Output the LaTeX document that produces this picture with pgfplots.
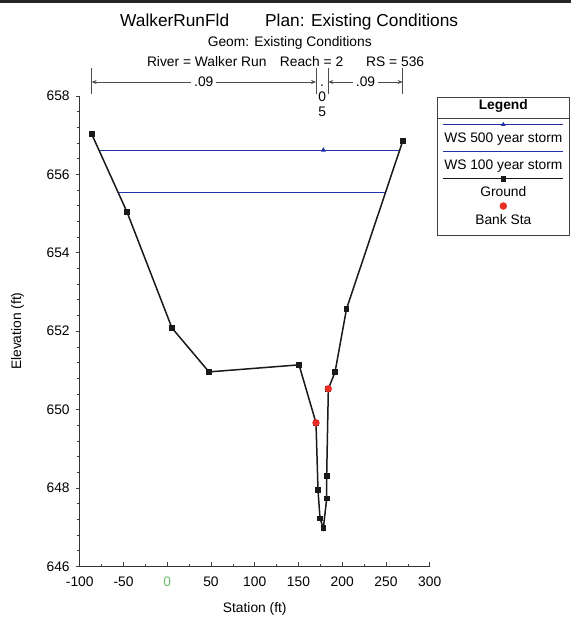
\documentclass[border=0pt]{standalone}
\usepackage{fontspec}
\setmainfont{Liberation Sans}
\usepackage{pgfplots}
\pgfplotsset{compat=1.18}
\usetikzlibrary{arrows.meta}

\definecolor{wsblue}{RGB}{35,50,165}
\definecolor{bankred}{RGB}{235,45,35}
\definecolor{zerogreen}{RGB}{110,190,110}
\newcommand\sm{\fontsize{13.8pt}{16pt}\selectfont}
\newcommand\ttl{\fontsize{17.3pt}{20pt}\selectfont}

\begin{document}
\begin{tikzpicture}[x=1pt,y=1pt]
\path[use as bounding box] (0,0) rectangle (571,618);
\fill[black!85] (0,615) rectangle (571,618);

% headings
\node[anchor=base west,inner sep=0pt,font=\ttl] at (120,591.5) {WalkerRunFld};
\node[anchor=base west,inner sep=0pt,font=\ttl] at (265,591.5) {Plan: Existing Conditions};
\node[anchor=base west,inner sep=0pt,font=\sm] at (207.6,571.6) {Geom: Existing Conditions};
\node[anchor=base west,inner sep=0pt,font=\sm] at (146.8,551.2) {River = Walker Run};
\node[anchor=base west,inner sep=0pt,font=\sm] at (279.7,551.2) {Reach = 2};
\node[anchor=base west,inner sep=0pt,font=\sm] at (366,551.2) {RS = 536};

\begin{axis}[
  at={(79.75pt,51.7pt)}, anchor=south west,
  scale only axis, width=350pt, height=470.3pt,
  xmin=-100, xmax=300, ymin=646, ymax=658,
  clip=false,
  axis x line*=bottom, axis y line*=left,
  axis line style={black!80, line width=0.7pt},
  xtick={-100,-50,...,300},
  xticklabels={-100,-50,\textcolor{zerogreen}{0},50,100,150,200,250,300},
  ytick={646,648,...,658},
  yticklabels={646,648,650,652,654,656,658},
  minor x tick num=1, minor y tick num=4,
  xtick align=inside, ytick align=outside,
  major tick length=4pt, minor tick length=2.5pt,
  tick style={black!75, line width=0.6pt},
  tick label style={font=\sm},
  xticklabel style={yshift=-7pt},
  yticklabel style={xshift=-2.6pt},
  xlabel={Station (ft)},
  ylabel={Elevation (ft)},
  label style={font=\sm},
  xlabel style={at={(axis description cs:0.5,-0.0972)}, anchor=base},
  ylabel style={at={(axis description cs:-0.1779,0.5)}, anchor=center},
  legend style={at={(axis description cs:1.0199,0.9985)}, anchor=north west,
    draw=black!75, line width=0.6pt, fill=white, font=\sm,
    inner xsep=6.3pt, inner ysep=2.3pt, row sep=14.3pt,
    /tikz/column sep=0pt,
    nodes={anchor=base west, inner sep=0pt, text depth=, text height=}},
  legend cell align=left,
]

% water surfaces
\addplot[forget plot, wsblue, line width=0.9pt, mark=triangle*, mark size=2pt,
  mark indices={2}] coordinates {(-78.1,656.62) (178.4,656.62) (265.6,656.62)};
\addplot[forget plot, wsblue, line width=0.9pt, mark=none]
  coordinates {(-56.3,655.53) (249.3,655.53)};

% ground profile
\addplot[forget plot, black!90, line width=1.5pt, mark=square*, mark size=2.1pt]
  coordinates {
  (-86.4,657.03) (-46.0,655.04) (5.4,652.08) (47.7,650.96) (150.6,651.14)
  (170.0,649.66) (172.3,647.94) (174.6,647.22) (178.4,646.97) (182.2,647.73)
  (182.2,648.31) (184.1,650.53) (191.7,650.95) (204.9,652.57) (269.1,656.85)};

% bank stations
\addplot[forget plot, only marks, mark=*, mark size=3.4pt, bankred,
  mark options={draw=bankred, fill=bankred}]
  coordinates {(170.0,649.66) (184.1,650.53)};

% Manning's n bands
\begin{scope}[black!70, line width=0.6pt]
  \draw (axis cs:-86.4,658.05) -- (axis cs:-86.4,658.714);
  \draw (axis cs:170.0,658.05) -- (axis cs:170.0,658.714);
  \draw (axis cs:184.1,658.05) -- (axis cs:184.1,658.714);
  \draw (axis cs:269.1,658.05) -- (axis cs:269.1,658.714);
  \draw[{Stealth[length=5pt,width=4pt]}-{Stealth[length=5pt,width=4pt]}]
    (axis cs:-86.4,658.357) -- node[fill=white, inner sep=3pt, font=\sm, text=black] {.09} (axis cs:170.0,658.357);
  \draw[{Stealth[length=5pt,width=4pt]}-{Stealth[length=5pt,width=4pt]}]
    (axis cs:184.1,658.357) -- node[fill=white, inner sep=3pt, font=\sm, text=black] {.09} (axis cs:269.1,658.357);
\end{scope}
\node[anchor=base, inner sep=0pt, font=\sm] at (axis cs:177,658.23) {.};
\node[anchor=center, inner sep=0pt, font=\sm] at (axis cs:177,657.98) {0};
\node[anchor=center, inner sep=0pt, font=\sm] at (axis cs:177,657.60) {5};

% legend
\addlegendimage{legend image code/.code={\draw[overlay,black!75,line width=0.6pt] (-6.3pt,-9.5pt) -- (126.3pt,-9.5pt);}}
\addlegendentry{\makebox[120pt]{\bfseries Legend}\rule[-6.9pt]{0pt}{11pt}}
\addlegendimage{legend image code/.code={\draw[overlay,wsblue,line width=0.9pt] (0pt,18pt) -- (120pt,18pt);
  \draw[overlay,wsblue] plot[mark=triangle*,mark size=2pt] coordinates {(60pt,18pt)};}}
\addlegendentry{\makebox[120pt]{WS 500 year storm}\rule[-3pt]{0pt}{15pt}}
\addlegendimage{legend image code/.code={\draw[overlay,wsblue,line width=0.9pt] (0pt,18pt) -- (120pt,18pt);}}
\addlegendentry{\makebox[120pt]{WS 100 year storm}\rule[-3pt]{0pt}{11pt}}
\addlegendimage{legend image code/.code={\draw[overlay,black!90,line width=1.5pt] (0pt,18pt) -- (120pt,18pt);
  \draw[overlay,black!90] plot[mark=square*,mark size=2.1pt] coordinates {(60pt,18pt)};}}
\addlegendentry{\makebox[120pt]{Ground}\rule[-3pt]{0pt}{11pt}}
\addlegendimage{legend image code/.code={\draw[overlay,bankred] plot[mark=*,mark size=3.4pt,mark options={fill=bankred}] coordinates {(60pt,18pt)};}}
\addlegendentry{\makebox[120pt]{Bank Sta}\rule[-9pt]{0pt}{11pt}}
\end{axis}
\end{tikzpicture}
\end{document}
